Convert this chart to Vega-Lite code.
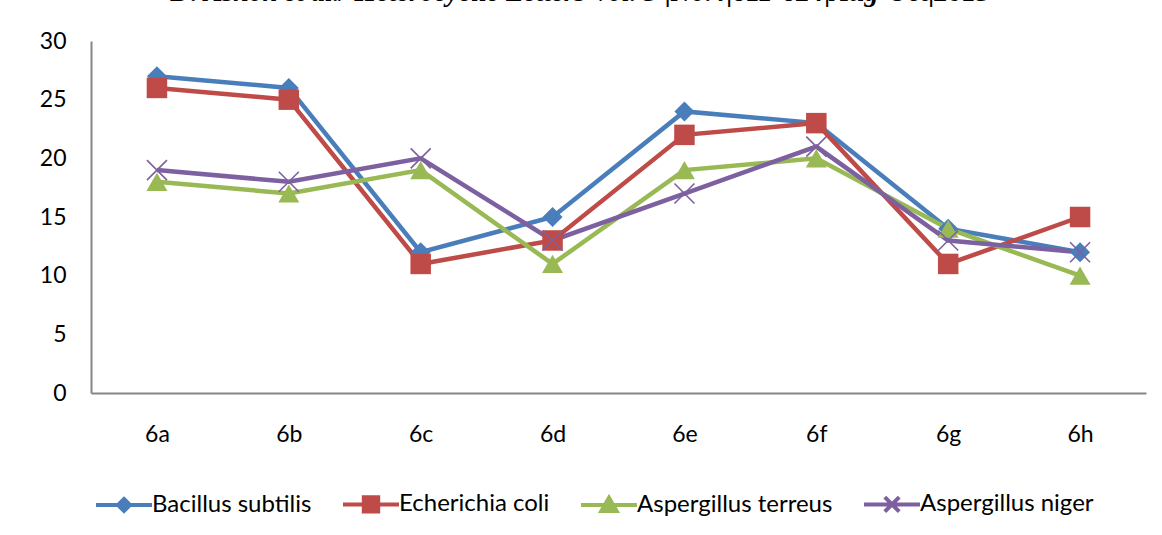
{
  "$schema": "https://vega.github.io/schema/vega-lite/v6.json",
  "autosize": {"type": "none"},
  "width": 1055,
  "height": 352,
  "padding": {"left": 91, "top": 41, "right": 16, "bottom": 142},
  "background": "white",
  "title": {
    "text": "D. Ashok et al./ Heterocyclic Letters Vol. 5 |No.4|611-624|Aug-Oct|2015",
    "font": "Liberation Serif",
    "fontSize": 28,
    "fontWeight": "bold",
    "fontStyle": "italic",
    "color": "black",
    "anchor": "middle",
    "frame": "group",
    "baseline": "alphabetic",
    "dx": -38,
    "offset": 1
  },
  "config": {
    "view": {"stroke": null},
    "font": "Lato"
  },
  "data": {
    "values": [
      {"compound": "6a", "series": "Bacillus subtilis", "value": 27},
      {"compound": "6b", "series": "Bacillus subtilis", "value": 26},
      {"compound": "6c", "series": "Bacillus subtilis", "value": 12},
      {"compound": "6d", "series": "Bacillus subtilis", "value": 15},
      {"compound": "6e", "series": "Bacillus subtilis", "value": 24},
      {"compound": "6f", "series": "Bacillus subtilis", "value": 23},
      {"compound": "6g", "series": "Bacillus subtilis", "value": 14},
      {"compound": "6h", "series": "Bacillus subtilis", "value": 12},
      {"compound": "6a", "series": "Echerichia coli", "value": 26},
      {"compound": "6b", "series": "Echerichia coli", "value": 25},
      {"compound": "6c", "series": "Echerichia coli", "value": 11},
      {"compound": "6d", "series": "Echerichia coli", "value": 13},
      {"compound": "6e", "series": "Echerichia coli", "value": 22},
      {"compound": "6f", "series": "Echerichia coli", "value": 23},
      {"compound": "6g", "series": "Echerichia coli", "value": 11},
      {"compound": "6h", "series": "Echerichia coli", "value": 15},
      {"compound": "6a", "series": "Aspergillus terreus", "value": 18},
      {"compound": "6b", "series": "Aspergillus terreus", "value": 17},
      {"compound": "6c", "series": "Aspergillus terreus", "value": 19},
      {"compound": "6d", "series": "Aspergillus terreus", "value": 11},
      {"compound": "6e", "series": "Aspergillus terreus", "value": 19},
      {"compound": "6f", "series": "Aspergillus terreus", "value": 20},
      {"compound": "6g", "series": "Aspergillus terreus", "value": 14},
      {"compound": "6h", "series": "Aspergillus terreus", "value": 10},
      {"compound": "6a", "series": "Aspergillus niger", "value": 19},
      {"compound": "6b", "series": "Aspergillus niger", "value": 18},
      {"compound": "6c", "series": "Aspergillus niger", "value": 20},
      {"compound": "6d", "series": "Aspergillus niger", "value": 13},
      {"compound": "6e", "series": "Aspergillus niger", "value": 17},
      {"compound": "6f", "series": "Aspergillus niger", "value": 21},
      {"compound": "6g", "series": "Aspergillus niger", "value": 13},
      {"compound": "6h", "series": "Aspergillus niger", "value": 12}
    ]
  },
  "encoding": {
    "x": {
      "field": "compound",
      "type": "ordinal",
      "scale": {"type": "point", "padding": 0.5},
      "axis": {
        "title": null,
        "labelAngle": 0,
        "labelFont": "Lato",
        "labelFontSize": 23,
        "labelColor": "black",
        "labelPadding": 41,
        "labelBaseline": "middle",
        "ticks": false,
        "domainColor": "#868686",
        "domainWidth": 2,
        "grid": false
      }
    },
    "y": {
      "field": "value",
      "type": "quantitative",
      "scale": {"domain": [0, 30], "nice": false},
      "axis": {
        "title": null,
        "values": [0, 5, 10, 15, 20, 25, 30],
        "labelFont": "Lato",
        "labelFontSize": 23,
        "labelColor": "black",
        "labelPadding": 25,
        "ticks": false,
        "domainColor": "#868686",
        "domainWidth": 2,
        "grid": false
      }
    }
  },
  "layer": [
    {
      "mark": {"type": "point", "filled": true, "opacity": 0, "size": 256, "strokeWidth": 4},
      "encoding": {
        "color": {
          "field": "series",
          "type": "nominal",
          "scale": {
            "domain": ["Bacillus subtilis", "Echerichia coli", "Aspergillus terreus", "Aspergillus niger"],
            "range": ["#4A7EBB", "#BE4B48", "#98B954", "#7D60A0"]
          },
          "legend": {
            "title": null,
            "orient": "none",
            "direction": "horizontal",
            "legendX": 21,
            "legendY": 451,
            "padding": 0,
            "labelFont": "Lato",
            "labelFontSize": 24,
            "labelColor": "black",
            "labelLimit": 400,
            "symbolSize": 256,
            "symbolOpacity": 1,
            "symbolStrokeWidth": 4,
            "labelOffset": 16,
            "columnPadding": 23
          }
        },
        "stroke": {
          "field": "series",
          "type": "nominal",
          "scale": {
            "domain": ["Bacillus subtilis", "Echerichia coli", "Aspergillus terreus", "Aspergillus niger"],
            "range": ["#4A7EBB", "#BE4B48", "#98B954", "#7D60A0"]
          },
          "legend": {
            "title": null,
            "orient": "none",
            "direction": "horizontal",
            "legendX": 21,
            "legendY": 451,
            "padding": 0,
            "labelFont": "Lato",
            "labelFontSize": 24,
            "labelColor": "black",
            "labelLimit": 400,
            "symbolSize": 256,
            "symbolOpacity": 1,
            "symbolStrokeWidth": 4,
            "labelOffset": 16,
            "columnPadding": 23
          }
        },
        "shape": {
          "field": "series",
          "type": "nominal",
          "scale": {
            "domain": ["Bacillus subtilis", "Echerichia coli", "Aspergillus terreus", "Aspergillus niger"],
            "range": [
              "M-3.5,0L3.5,0M0,-0.75L0.75,0L0,0.75L-0.75,0Z",
              "M-3.5,0L3.5,0M-0.9,-0.9L0.9,-0.9L0.9,0.9L-0.9,0.9Z",
              "M-3.5,0L3.5,0M0,-0.9L0.95,0.75L-0.95,0.75Z",
              "M-3.5,0L3.5,0M-0.9,-0.9L0.9,0.9M-0.9,0.9L0.9,-0.9"
            ]
          },
          "legend": {
            "title": null,
            "orient": "none",
            "direction": "horizontal",
            "legendX": 21,
            "legendY": 451,
            "padding": 0,
            "labelFont": "Lato",
            "labelFontSize": 24,
            "labelColor": "black",
            "labelLimit": 400,
            "symbolSize": 256,
            "symbolOpacity": 1,
            "symbolStrokeWidth": 4,
            "labelOffset": 16,
            "columnPadding": 23
          }
        }
      }
    },
    {
      "mark": {"type": "line", "strokeWidth": 4.5},
      "encoding": {
        "color": {"field": "series", "type": "nominal", "legend": null}
      }
    },
    {
      "transform": [{"filter": "datum.series === 'Bacillus subtilis'"}],
      "mark": {"type": "point", "shape": "diamond", "filled": true, "opacity": 1, "size": 400},
      "encoding": {
        "color": {"field": "series", "type": "nominal", "legend": null}
      }
    },
    {
      "transform": [{"filter": "datum.series === 'Echerichia coli'"}],
      "mark": {"type": "point", "shape": "square", "filled": true, "opacity": 1, "size": 420},
      "encoding": {
        "color": {"field": "series", "type": "nominal", "legend": null}
      }
    },
    {
      "transform": [{"filter": "datum.series === 'Aspergillus terreus'"}],
      "mark": {"type": "point", "shape": "triangle-up", "filled": true, "opacity": 1, "size": 440},
      "encoding": {
        "color": {"field": "series", "type": "nominal", "legend": null}
      }
    },
    {
      "transform": [{"filter": "datum.series === 'Aspergillus niger'"}],
      "mark": {"type": "point", "shape": "M-1,-1L1,1M-1,1L1,-1", "filled": false, "opacity": 1, "size": 400, "strokeWidth": 1.6},
      "encoding": {
        "color": {"field": "series", "type": "nominal", "legend": null}
      }
    }
  ]
}
